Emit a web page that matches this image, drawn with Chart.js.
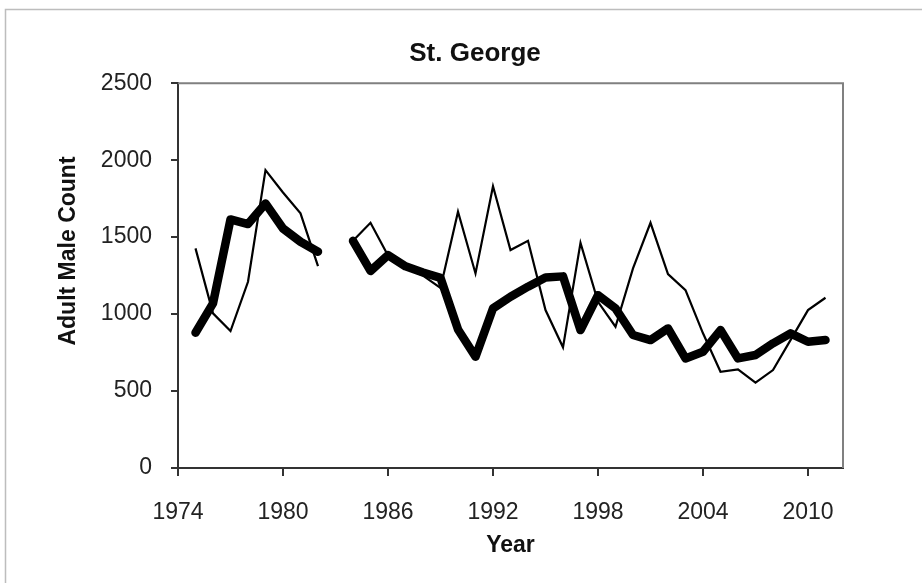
<!DOCTYPE html>
<html>
<head>
<meta charset="utf-8">
<script src="https://cdn.jsdelivr.net/npm/chart.js@4/dist/chart.umd.min.js"></script>
<style>
  html, body { margin: 0; padding: 0; background: #fff; }
  canvas { display: block; }
</style>
</head>
<body>
<canvas id="c" width="922" height="583"></canvas>
<script>
// ---- data ----
const years = [1975,1976,1977,1978,1979,1980,1981,1982,1983,1984,1985,1986,1987,1988,1989,1990,1991,1992,1993,1994,1995,1996,1997,1998,1999,2000,2001,2002,2003,2004,2005,2006,2007,2008,2009,2010,2011];
const annualCount = [1427,1005,890,1210,1935,1790,1654,1312,null,1476,1593,1380,1300,1250,1170,1665,1264,1831,1416,1476,1026,784,1463,1080,918,1297,1593,1260,1156,875,625,641,554,636,831,1026,1106];
const smoothedCount = [879,1070,1615,1585,1719,1556,1470,1405,null,1476,1280,1383,1310,1270,1235,900,723,1037,1113,1178,1238,1245,896,1123,1037,864,831,907,712,755,896,712,734,810,875,820,831];
const xTickLabels = [1974,1980,1986,1992,1998,2004,2010];
const yTickValues = [0,500,1000,1500,2000,2500];
const chartTitle = 'St. George';
const xTitle = 'Year';
const yTitle = 'Adult Male Count';

const FONT = "'Liberation Sans', Arial, Helvetica, sans-serif";
Chart.defaults.font.family = FONT;
Chart.defaults.color = '#222';

const decor = {
  id: 'decor',
  beforeDraw(chart) {
    const ctx = chart.ctx;
    ctx.save();
    ctx.strokeStyle = '#bdbdbd';
    ctx.lineWidth = 1.5;
    ctx.beginPath();
    ctx.moveTo(5.5, 583);
    ctx.lineTo(5.5, 9.5);
    ctx.lineTo(922, 9.5);
    ctx.stroke();
    ctx.restore();
  },
  afterDraw(chart) {
    const ctx = chart.ctx;
    const a = chart.chartArea;
    ctx.save();
    ctx.strokeStyle = '#808080';
    ctx.lineWidth = 2;
    ctx.beginPath();
    ctx.moveTo(a.left, a.top);
    ctx.lineTo(a.right, a.top);
    ctx.lineTo(a.right, a.bottom);
    ctx.stroke();
    // y axis title
    ctx.fillStyle = '#111';
    ctx.font = 'bold 23px ' + FONT;
    ctx.textAlign = 'center';
    ctx.textBaseline = 'middle';
    ctx.translate(69, 251);
    ctx.rotate(-Math.PI / 2);
    ctx.fillText(yTitle, 0, 0);
    ctx.restore();
  }
};

new Chart(document.getElementById('c'), {
  type: 'line',
  data: {
    datasets: [
      {
        label: 'Annual count',
        data: years.map((y, i) => ({x: y, y: annualCount[i]})),
        borderColor: '#000',
        borderWidth: 2.2,
        pointRadius: 0,
        tension: 0,
        spanGaps: false,
        order: 2
      },
      {
        label: 'Smoothed',
        data: years.map((y, i) => ({x: y, y: smoothedCount[i]})),
        borderColor: '#000',
        borderWidth: 8.5,
        borderJoinStyle: 'round',
        borderCapStyle: 'round',
        pointRadius: 0,
        tension: 0,
        spanGaps: false,
        order: 1
      }
    ]
  },
  options: {
    responsive: false,
    animation: false,
    layout: { padding: { left: 28, right: 0, top: 0, bottom: 0 } },
    plugins: {
      legend: { display: false },
      tooltip: { enabled: false },
      title: {
        display: true,
        text: chartTitle,
        color: '#111',
        font: { size: 26, weight: 'bold' },
        padding: { top: 38, bottom: 14 }
      }
    },
    scales: {
      x: {
        type: 'linear',
        min: 1974,
        max: 2012,
        afterBuildTicks(scale) { scale.ticks = xTickLabels.map(v => ({value: v})); },
        afterFit(scale) { scale.height = 115; },
        ticks: {
          font: { size: 23 },
          color: '#222',
          padding: 23,
          maxRotation: 0,
          autoSkip: false,
          callback: v => String(v)
        },
        grid: { drawOnChartArea: false, drawTicks: true, tickLength: 8, color: '#333', lineWidth: 2 },
        border: { display: true, color: '#333', width: 2 },
        title: {
          display: true,
          text: xTitle,
          color: '#111',
          font: { size: 23, weight: 'bold' },
          padding: { top: 0, bottom: 24 }
        }
      },
      y: {
        min: 0,
        max: 2500,
        afterBuildTicks(scale) { scale.ticks = yTickValues.map(v => ({value: v})); },
        afterFit(scale) { scale.width = 150; },
        ticks: {
          font: { size: 23 },
          color: '#222',
          padding: 19,
          callback: v => String(v)
        },
        grid: { drawOnChartArea: false, drawTicks: true, tickLength: 7, color: '#333', lineWidth: 2 },
        border: { display: true, color: '#333', width: 2 }
      },
      yRight: {
        position: 'right',
        display: true,
        afterFit(scale) { scale.width = 79; },
        ticks: { display: false },
        grid: { display: false, drawTicks: false },
        border: { display: false }
      }
    }
  },
  plugins: [decor]
});
</script>
</body>
</html>
